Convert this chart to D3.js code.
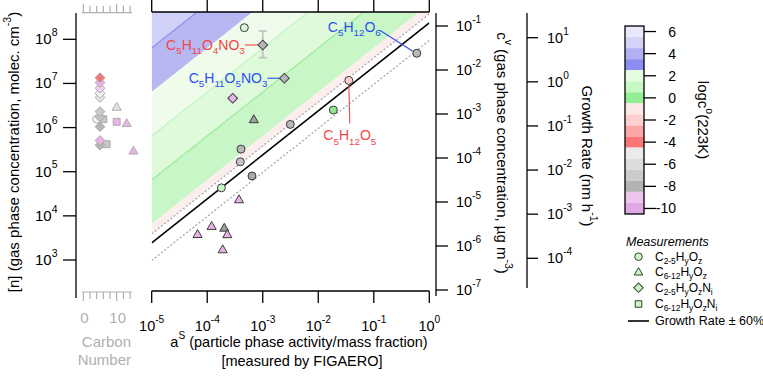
<!DOCTYPE html>
<html><head><meta charset="utf-8">
<script src="https://cdn.jsdelivr.net/npm/d3@7/dist/d3.min.js"></script>
<style>
body{margin:0;background:#fff;}
svg{font-family:"Liberation Sans", Arial, Helvetica, sans-serif;}
</style></head><body>
<svg id="c" width="763" height="385"></svg>
<script>
// ---------------- DATA ----------------
const xTicks = [1e-5, 1e-4, 1e-3, 1e-2, 1e-1, 1];
const xTickExp = ["-5", "-4", "-3", "-2", "-1", "0"];
const cvTicks = [1e-1, 1e-2, 1e-3, 1e-4, 1e-5, 1e-6, 1e-7];
const cvTickExp = ["-1", "-2", "-3", "-4", "-5", "-6", "-7"];
const nTicks = [1e8, 1e7, 1e6, 1e5, 1e4, 1e3];
const nTickExp = ["8", "7", "6", "5", "4", "3"];
const grTicks = [1e1, 1e0, 1e-1, 1e-2, 1e-3, 1e-4];
const grTickExp = ["1", "0", "-1", "-2", "-3", "-4"];
const cbTicks = [6, 4, 2, 0, -2, -4, -6, -8, -10];
const carbonTicks = [0, 2, 4, 6, 8, 10, 12, 14];
const carbonLabels = [0, 10];

// colour bar bands of log c°(223K)
const cbBandHi = [6.5, 5.5, 4.5, 3.5, 2.5, 1.5, 0.5, -0.5, -1.5, -2.5, -3.5, -4.5, -5.5, -6.5, -7.5, -8.5, -9.5];
const cbBandColor = ["#e9e9fb", "#d3d3f8", "#b0b0f3", "#8c8cf2", "#e4fcdf", "#c6f9c4", "#92ee92",
  "#fde8e8", "#fcd0d0", "#fca6a6", "#fa7676", "#ebebeb", "#dcdcdc", "#cbcbcb", "#b3b3b3", "#ecc6ec", "#e0a8e6"];

// background bands in the main panel (log c° limits)
const bgLo = [3.5, 2.5, 1.5, 0.5, -0.5, -1.5];
const bgHi = [10, 3.5, 2.5, 1.5, 0.5, -0.5];
const bgFill = ["#d2d2f8", "#b7b7f2", "#effcec", "#dffadb", "#c8f6c6", "#fdeeee"];
const bgEdge = [null, "#8e8ef0", null, "#c2f4c2", "#98ec98", null];

// growth-rate line: log10(c_v) = log10(a_S) + grOffset ; ±60 %
const grOffset = -0.93;
const grFactors = [1.6, 0.4];

// main panel measurements
const mainA  = [4.66e-4, 1.0e-3, 2.45e-3, 2.88e-4, 6.9e-4, 3.14e-3, 4.06e-4, 3.94e-4, 6.4e-4, 1.8e-4,
                3.74e-4, 1.2e-4, 2.03e-4, 2.3e-4, 6.7e-5, 1.9e-4, 0.596, 0.0355, 0.0187];
const mainCv = [0.0915, 0.037, 6.5e-3, 2.28e-3, 7.6e-4, 5.8e-4, 1.59e-4, 8.2e-5, 3.9e-5, 2.1e-5,
                1.15e-5, 2.85e-6, 2.6e-6, 1.85e-6, 1.87e-6, 8.4e-7, 0.024, 5.8e-3, 1.23e-3];
const mainShape = ["c","d","d","d","t","c","c","c","c","c","t","t","t","t","t","t","c","c","c"];
const mainFill  = ["#d6f6d4","#b6b6b6","#b6b6b6","#e8b4e8","#a2a2a2","#b8b8b8","#b8b8b8","#c6c6c6","#a8a8a8","#c8f4c6",
                   "#e8b4e8","#e8b4e8","#9e9e9e","#e8b4e8","#e8b4e8","#e8b4e8","#b8b8b8","#f9d0d0","#92e892"];
// error bar on C5H11O4NO3
const errA = [1.0e-3];
const errLo = [0.019];
const errHi = [0.0769];

// annotated compounds
const annText = [
  [["C",""],["5","sub"],["H",""],["11","sub"],["O",""],["4","sub"],["NO",""],["3","sub"]],
  [["C",""],["5","sub"],["H",""],["11","sub"],["O",""],["5","sub"],["NO",""],["3","sub"]],
  [["C",""],["5","sub"],["H",""],["12","sub"],["O",""],["6","sub"]],
  [["C",""],["5","sub"],["H",""],["12","sub"],["O",""],["5","sub"]]
];
const annColor = ["#f04848", "#2a50f2", "#2a50f2", "#f04848"];

// left panel: gas-phase concentration vs carbon number
const leftC = [5, 5, 5, 5, 5, 10, 5, 5, 4, 6, 5, 10, 13, 5, 5, 7, 15];
const leftN = [1.35e7, 1.05e7, 7.8e6, 6.0e6, 4.8e6, 2.95e6, 2.3e6, 1.74e6, 1.55e6, 1.55e6, 1.05e6, 1.35e6, 1.26e6, 5.1e5, 4.0e5, 4.2e5, 3.0e5];
const leftShape = ["d","d","d","d","d","t","d","d","c","s","d","s","t","d","d","s","t"];
const leftFill = ["#f77777","#e8b4e8","#f0d0f0","#f6f6f6","#e6e6e6","#e2e2e2","#cbcbcb","#c4c4c4","#f6f6f6","#c8c8c8",
                  "#b4b4b4","#e8b4e8","#e8b4e8","#e8b4e8","#b4b4b4","#c8c8c8","#e8b4e8"];

// legend
const legShape = ["c", "t", "d", "s"];
const legText = [
  [["C",""],["2-5","sub"],["H",""],["y","sub"],["O",""],["z","sub"]],
  [["C",""],["6-12","sub"],["H",""],["y","sub"],["O",""],["z","sub"]],
  [["C",""],["2-5","sub"],["H",""],["y","sub"],["O",""],["z","sub"],["N",""],["i","sub"]],
  [["C",""],["6-12","sub"],["H",""],["y","sub"],["O",""],["z","sub"],["N",""],["i","sub"]]
];

// ---------------- SCALES ----------------
const svg = d3.select("#c");
const x = d3.scaleLog().domain([1e-5, 1]).range([151.7, 429.3]);
const yCv = d3.scaleLog().domain([1e-7, 1e-1]).range([290, 26]);
const yN = d3.scaleLog().domain([1e3, 1e8]).range([260, 39.3]);
const yGr = d3.scaleLog().domain([1e-4, 1e1]).range([258.3, 37.7]);
const xC = d3.scaleLinear().domain([0, 10]).range([83.3, 116.7]);
const yCb = d3.scaleLinear().domain([-10.5, 6.5]).range([214, 26]);

const plotTop = 12, plotBot = 291;

// helpers
function rich(t, parts, size, subK) {
  let shift = 0;
  const sk = subK || 0.3;
  parts.forEach(([s, m]) => {
    const target = m === "sup" ? -0.55 * size : m === "sub" ? sk * size : 0;
    const ts = t.append("tspan").text(s).attr("dy", target - shift);
    if (m) ts.attr("font-size", size * 0.7);
    shift = target;
  });
  return t;
}
function sym(shape, scale) {
  const k = scale || 1;
  if (shape === "c") return d3.symbol(d3.symbolCircle, 50 * k * k)();
  if (shape === "t") return d3.symbol(d3.symbolTriangle, 36 * k * k)();
  if (shape === "s") return d3.symbol(d3.symbolSquare, 48 * k * k)();
  if (shape === "d") return d3.symbol(d3.symbolSquare, 48 * k * k)();
}
function symTransform(shape, px, py) {
  return shape === "d" ? `translate(${px},${py}) rotate(45)` :
         shape === "t" ? `translate(${px},${py + 0.8})` : `translate(${px},${py})`;
}

// ---------------- MAIN PANEL ----------------
svg.append("clipPath").attr("id", "clipMain").append("rect")
  .attr("x", x(1e-5)).attr("y", plotTop).attr("width", x(1) - x(1e-5)).attr("height", plotBot - plotTop);
const gm = svg.append("g").attr("clip-path", "url(#clipMain)");

const clipLo = grOffset + Math.log10(grFactors[0]);
function linePts(off) {
  return [[x(1e-5), yCv(1e-5 * Math.pow(10, off))], [x(1), yCv(Math.pow(10, off))]];
}
bgLo.forEach((lo, i) => {
  const l = Math.max(lo, clipLo), h = bgHi[i];
  const top = linePts(h), bot = linePts(l);
  gm.append("path")
    .attr("d", d3.line()([top[0], top[1], bot[1], bot[0]]) + "Z")
    .attr("fill", bgFill[i]);
});
bgLo.forEach((lo, i) => {
  if (!bgEdge[i]) return;
  gm.append("path").attr("d", d3.line()(linePts(bgHi[i])))
    .attr("stroke", bgEdge[i]).attr("stroke-width", 1.2).attr("fill", "none");
});
grFactors.forEach(f => {
  gm.append("path").attr("d", d3.line()(linePts(grOffset + Math.log10(f))))
    .attr("stroke", "#a8a8a8").attr("stroke-width", 1.3).attr("stroke-dasharray", "2,2").attr("fill", "none");
});
gm.append("path").attr("d", d3.line()(linePts(grOffset)))
  .attr("stroke", "#000").attr("stroke-width", 1.6).attr("fill", "none");

// error bar
errA.forEach((a, i) => {
  const px = x(a);
  const g = svg.append("g").attr("stroke", "#c4c4c4").attr("stroke-width", 1.8);
  g.append("line").attr("x1", px).attr("x2", px).attr("y1", yCv(errLo[i])).attr("y2", yCv(errHi[i]));
  g.append("line").attr("x1", px - 4).attr("x2", px + 4).attr("y1", yCv(errLo[i])).attr("y2", yCv(errLo[i]));
  g.append("line").attr("x1", px - 4).attr("x2", px + 4).attr("y1", yCv(errHi[i])).attr("y2", yCv(errHi[i]));
});

// annotation leader lines + labels
const annIdx = [1, 2, 16, 17];
const annPos = [
  {tx: -18, ty: 0, anchor: "end", lx1: -5, ly1: 0, lx2: -18, ly2: 0},
  {tx: -17, ty: 0, anchor: "end", lx1: -5, ly1: 0, lx2: -17, ly2: 0},
  {tx: -36, ty: -26, anchor: "end", lx1: -4, ly1: -2, lx2: -37, ly2: -23},
  {tx: 1, ty: 55, anchor: "middle", lx1: 0, ly1: 4, lx2: 1, ly2: 43}
];
annIdx.forEach((mi, k) => {
  const px = x(mainA[mi]), py = yCv(mainCv[mi]), p = annPos[k];
  svg.append("line").attr("x1", px + p.lx1).attr("y1", py + p.ly1).attr("x2", px + p.lx2).attr("y2", py + p.ly2)
    .attr("stroke", annColor[k]).attr("stroke-width", 1.1);
  const t = svg.append("text").attr("x", px + p.tx).attr("y", py + p.ty + 5)
    .attr("text-anchor", p.anchor).attr("font-size", 14).attr("fill", annColor[k]);
  rich(t, annText[k], 14);
});

// markers
mainA.forEach((a, i) => {
  svg.append("path").attr("d", sym(mainShape[i]))
    .attr("transform", symTransform(mainShape[i], x(a), yCv(mainCv[i])))
    .attr("fill", mainFill[i]).attr("stroke", "#3c3c3c").attr("stroke-width", 1);
});

// bottom / top axis
const gx = svg.append("g").attr("stroke", "#000");
gx.append("line").attr("x1", x(1e-5)).attr("x2", x(1)).attr("y1", plotBot).attr("y2", plotBot).attr("stroke-width", 1.3);
gx.append("line").attr("x1", x(1e-5)).attr("x2", x(1)).attr("y1", plotTop).attr("y2", plotTop).attr("stroke-width", 1.3);
xTicks.forEach((v, i) => {
  gx.append("line").attr("x1", x(v)).attr("x2", x(v)).attr("y1", plotBot).attr("y2", plotBot + 12).attr("stroke-width", 1.3);
  gx.append("line").attr("x1", x(v)).attr("x2", x(v)).attr("y1", plotTop).attr("y2", 0).attr("stroke-width", 1.3);
  const t = svg.append("text").attr("x", x(v)).attr("y", 331).attr("text-anchor", "middle").attr("font-size", 14.5);
  rich(t, [["10", ""], [xTickExp[i], "sup"]], 14.5);
});
rich(svg.append("text").attr("x", 299).attr("y", 347).attr("text-anchor", "middle").attr("font-size", 14.5),
  [["a", ""], ["S", "sup"], [" (particle phase activity/mass fraction)", ""]], 14.5);
svg.append("text").attr("x", 302).attr("y", 366).attr("text-anchor", "middle").attr("font-size", 14.5)
  .text("[measured by FIGAERO]");

// right c_v axis
const cvX = 436;
svg.append("line").attr("x1", cvX).attr("x2", cvX).attr("y1", 13).attr("y2", 296).attr("stroke", "#000").attr("stroke-width", 1.3);
cvTicks.forEach((v, i) => {
  svg.append("line").attr("x1", cvX).attr("x2", cvX + 12).attr("y1", yCv(v)).attr("y2", yCv(v)).attr("stroke", "#000").attr("stroke-width", 1.3);
  rich(svg.append("text").attr("x", cvX + 20).attr("y", yCv(v) + 5).attr("font-size", 14.5),
    [["10", ""], [cvTickExp[i], "sup"]], 14.5);
});
rich(svg.append("text").attr("transform", "translate(497,153) rotate(90)").attr("text-anchor", "middle").attr("font-size", 15),
  [["c", ""], ["v", "sup"], [" (gas phase concentration, \u00b5g m", ""], ["-3", "sup"], [")", ""]], 15);

// growth-rate axis
const grX = 527;
svg.append("line").attr("x1", grX).attr("x2", grX).attr("y1", 13).attr("y2", 288).attr("stroke", "#000").attr("stroke-width", 1.3);
grTicks.forEach((v, i) => {
  svg.append("line").attr("x1", grX).attr("x2", grX + 11).attr("y1", yGr(v)).attr("y2", yGr(v)).attr("stroke", "#000").attr("stroke-width", 1.3);
  rich(svg.append("text").attr("x", grX + 20).attr("y", yGr(v) + 5).attr("font-size", 14.5),
    [["10", ""], [grTickExp[i], "sup"]], 14.5);
});
rich(svg.append("text").attr("transform", "translate(582,156) rotate(90)").attr("text-anchor", "middle").attr("font-size", 15),
  [["Growth Rate (nm h", ""], ["-1", "sup"], [")", ""]], 15);

// ---------------- LEFT PANEL ----------------
const nX = 76;
svg.append("line").attr("x1", nX).attr("x2", nX).attr("y1", 13).attr("y2", 298).attr("stroke", "#000").attr("stroke-width", 1.3);
nTicks.forEach((v, i) => {
  svg.append("line").attr("x1", nX - 13).attr("x2", nX).attr("y1", yN(v)).attr("y2", yN(v)).attr("stroke", "#000").attr("stroke-width", 1.3);
  rich(svg.append("text").attr("x", 57.5).attr("y", yN(v) + 5).attr("text-anchor", "end").attr("font-size", 15),
    [["10", ""], [nTickExp[i], "sup"]], 15);
});
rich(svg.append("text").attr("transform", "translate(19,152) rotate(-90)").attr("text-anchor", "middle").attr("font-size", 15),
  [["[n] (gas phase concentration, molec. cm", ""], ["-3", "sup"], [")", ""]], 15);

// carbon axes (top and bottom)
const cg = svg.append("g").attr("stroke", "#b0b0b0").attr("stroke-width", 1.2);
[[12.7, -1], [292, 1]].forEach(([yy, dir]) => {
  cg.append("line").attr("x1", 82).attr("x2", 132).attr("y1", yy).attr("y2", yy);
  carbonTicks.forEach(c => {
    const len = (c % 10 === 0) ? 9 : 7;
    cg.append("line").attr("x1", xC(c)).attr("x2", xC(c)).attr("y1", yy).attr("y2", yy + dir * len);
  });
});
carbonLabels.forEach(c => {
  svg.append("text").attr("x", xC(c) + 1).attr("y", 323).attr("text-anchor", "middle").attr("font-size", 15)
    .attr("fill", "#b0b0b0").text(c);
});
svg.append("text").attr("x", 131).attr("y", 347).attr("text-anchor", "end").attr("font-size", 15).attr("fill", "#b0b0b0").text("Carbon");
svg.append("text").attr("x", 131).attr("y", 365).attr("text-anchor", "end").attr("font-size", 15).attr("fill", "#b0b0b0").text("Number");

// left markers (drawn bottom-up so upper ones on top)
d3.range(leftC.length).reverse().forEach(i => {
  svg.append("path").attr("d", sym(leftShape[i]))
    .attr("transform", symTransform(leftShape[i], xC(leftC[i]), yN(leftN[i])))
    .attr("fill", leftFill[i]).attr("stroke", "#a6a6a6").attr("stroke-width", 0.9);
});

// ---------------- COLOUR BAR ----------------
const cbX = 625, cbW = 19;
cbBandHi.forEach((h, i) => {
  svg.append("rect").attr("x", cbX).attr("width", cbW).attr("y", yCb(h)).attr("height", yCb(h - 1) - yCb(h))
    .attr("fill", cbBandColor[i]);
});
svg.append("rect").attr("x", cbX).attr("y", yCb(6.5)).attr("width", cbW).attr("height", yCb(-10.5) - yCb(6.5))
  .attr("fill", "none").attr("stroke", "#000").attr("stroke-width", 1.3);
cbTicks.forEach(v => {
  svg.append("line").attr("x1", cbX + cbW).attr("x2", cbX + cbW + 12).attr("y1", yCb(v)).attr("y2", yCb(v))
    .attr("stroke", "#000").attr("stroke-width", 1.3);
  svg.append("text").attr("x", 676).attr("y", yCb(v) + 5).attr("text-anchor", "end").attr("font-size", 14).text(v);
});
rich(svg.append("text").attr("transform", "translate(698,120) rotate(90)").attr("text-anchor", "middle").attr("font-size", 15),
  [["logc", ""], ["o", "sup"], ["(223K)", ""]], 15);

// ---------------- LEGEND ----------------
svg.append("text").attr("x", 626).attr("y", 246).attr("font-size", 12.5).attr("font-style", "italic").text("Measurements");
const legY = [256.7, 271.7, 287.7, 304];
legShape.forEach((s, i) => {
  svg.append("path").attr("d", sym(s, 0.95)).attr("transform", symTransform(s, 638.5, legY[i]))
    .attr("fill", "#c8f4c6").attr("stroke", "#3c3c3c").attr("stroke-width", 1);
  rich(svg.append("text").attr("x", 655).attr("y", legY[i] + 4).attr("font-size", 12), legText[i], 12, 0.25);
});
svg.append("line").attr("x1", 628).attr("x2", 649).attr("y1", 321).attr("y2", 321).attr("stroke", "#000").attr("stroke-width", 1.6);
svg.append("text").attr("x", 655).attr("y", 325).attr("font-size", 12.5).text("Growth Rate \u00b1 60%");
</script>
</body></html>
